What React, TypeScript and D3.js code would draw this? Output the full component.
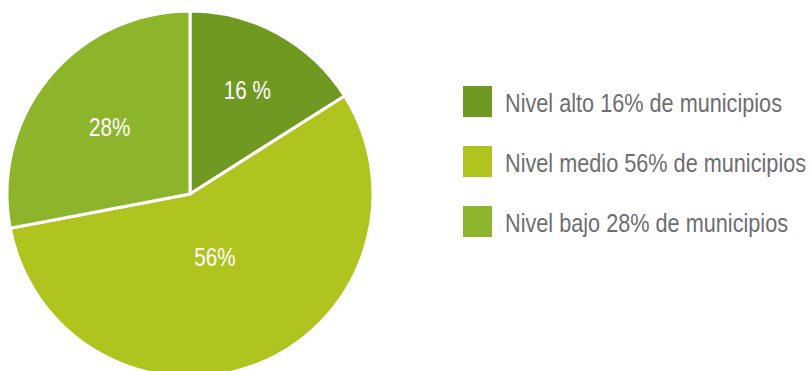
import React from "react";
import * as d3 from "d3";

const categories = ["Nivel alto", "Nivel medio", "Nivel bajo"];
const values = [16, 56, 28];
const sliceLabels = ["16 %", "56%", "28%"];
const legendLabels = [
  "Nivel alto 16% de municipios",
  "Nivel medio 56% de municipios",
  "Nivel bajo 28% de municipios",
];
const colors = ["#709922", "#b0c41f", "#8db52c"];

const W = 811;
const H = 371;
const cx = 190;
const cy = 194;
const R = 183;
const labelRadiusFactor = [0.65, 0.37, 0.57];
const FONT = "'Liberation Sans', Arial, sans-serif";
const SX_PIE = 0.81;
const SX_LEG = 0.85;

export default function App() {
  const pie = d3.pie<number>().sort(null).value((d) => d)(values);
  const arc = d3.arc<d3.PieArcDatum<number>>().innerRadius(0).outerRadius(R);
  const legendY = d3.scaleBand<string>().domain(categories).range([86, 86 + 60 * 3]);

  return (
    <svg width={W} height={H} style={{ position: "absolute", left: 0, top: 0, background: "#fff" }}>
      <g transform={`translate(${cx},${cy})`}>
        {pie.map((p, i) => (
          <path key={i} d={arc(p) || ""} fill={colors[i]} stroke="#fff" strokeWidth={3} strokeLinejoin="round" />
        ))}
        {pie.map((p, i) => {
          const a = (p.startAngle + p.endAngle) / 2;
          const r = R * labelRadiusFactor[i];
          return (
            <text
              key={"l" + i}
              transform={`translate(${Math.sin(a) * r},${-Math.cos(a) * r}) scale(${SX_PIE},1)`}
              textAnchor="middle"
              dominantBaseline="central"
              fill="#fff"
              fontFamily={FONT}
              fontSize={25.5}
            >
              {sliceLabels[i]}
            </text>
          );
        })}
      </g>
      {categories.map((c, i) => {
        const y = legendY(c) as number;
        return (
          <g key={c}>
            <rect x={463} y={y} width={29} height={31} fill={colors[i]} />
            <text
              transform={`translate(505,${y + 25.7}) scale(${SX_LEG},1)`}
              fill="#6d6e71"
              fontFamily={FONT}
              fontSize={25.5}
            >
              {legendLabels[i]}
            </text>
          </g>
        );
      })}
    </svg>
  );
}
